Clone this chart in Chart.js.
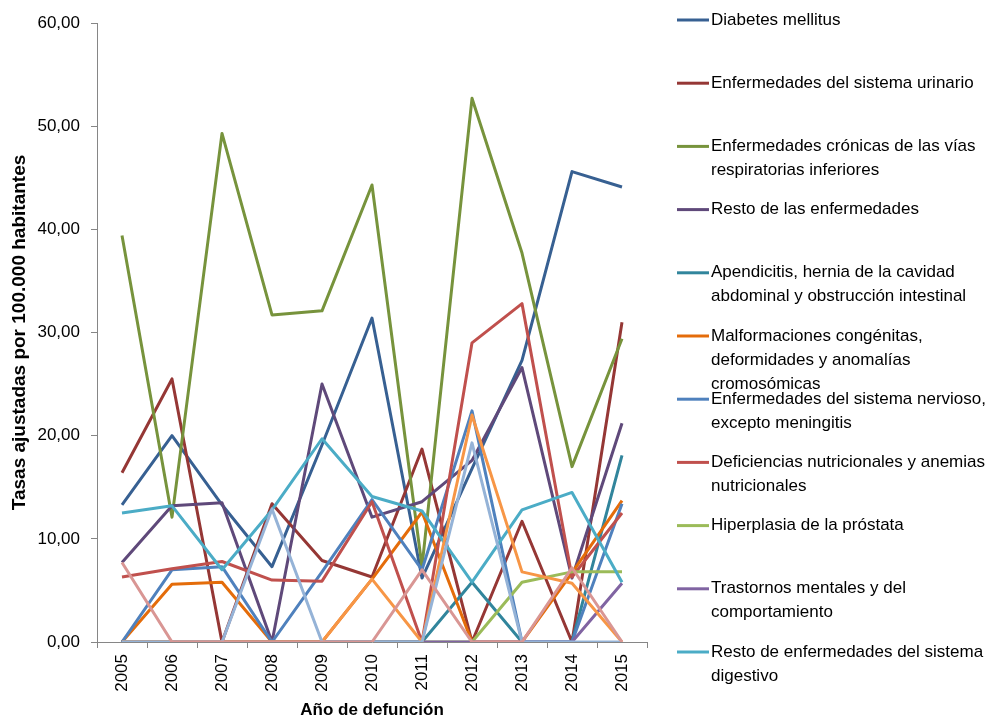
<!DOCTYPE html>
<html>
<head>
<meta charset="utf-8">
<script src="https://cdn.jsdelivr.net/npm/chart.js@4/dist/chart.umd.min.js"></script>
<style>
  body { margin: 0; background: #fff; }
  #wrap { width: 993px; height: 720px; position: relative; }
</style>
</head>
<body>
<div id="wrap"><canvas id="chart"></canvas></div>
<script>
// Años
const years = ['2005', '2006', '2007', '2008', '2009', '2010', '2011', '2012', '2013', '2014', '2015'];

// Tasas ajustadas por 100.000 habitantes
const diabetes       = [13.3, 20.0, 13.3, 7.3, 19.1, 31.4, 6.2, 16.8, 27.3, 45.6, 44.1];
const urinario       = [16.4, 25.5, 0, 13.4, 7.9, 6.3, 18.7, 0, 11.7, 0, 31.0];
const respiratorias  = [39.4, 12.1, 49.3, 31.7, 32.1, 44.3, 7.3, 52.7, 37.7, 17.0, 29.4];
const restoEnf       = [7.7, 13.2, 13.5, 0, 25.0, 12.1, 13.6, 17.6, 26.6, 6.2, 21.2];
const apendicitis    = [0, 0, 0, 0, 0, 0, 0, 5.8, 0, 0, 18.1];
const malformaciones = [0, 5.6, 5.8, 0, 0, 6.1, 12.6, 0, 0, 6.7, 13.7];
const nervioso       = [0, 7.0, 7.3, 0, 6.8, 13.8, 7.0, 22.4, 0, 0, 13.4];
const deficiencias   = [6.3, 7.1, 7.8, 6.0, 5.9, 13.6, 0, 29.0, 32.8, 6.3, 12.5];
const hiperplasia    = [0, 0, 0, 0, 0, 0, 0, 0, 5.8, 6.8, 6.8];
const trastornos     = [0, 0, 0, 0, 0, 0, 0, 0, 0, 0, 5.7];
const digestivo      = [12.5, 13.2, 7.0, 12.8, 19.7, 14.1, 12.7, 5.8, 12.8, 14.5, 5.8];
// series sin entrada visible en la leyenda (recortada)
const serie12        = [0, 0, 0, 0, 0, 6.1, 0, 22.0, 6.8, 5.7, 0];
const serie13        = [0, 0, 0, 12.9, 0, 0, 0, 19.3, 0, 0, 0];
const serie14        = [7.7, 0, 0, 0, 0, 0, 7.0, 0, 0, 7.2, 0];

const seriesNames = [
  'Diabetes mellitus',
  'Enfermedades del sistema urinario',
  'Enfermedades crónicas de las vías\nrespiratorias inferiores',
  'Resto de las enfermedades',
  'Apendicitis, hernia de la cavidad\nabdominal y obstrucción intestinal',
  'Malformaciones congénitas,\ndeformidades y anomalías\ncromosómicas',
  'Enfermedades del sistema nervioso,\nexcepto meningitis',
  'Deficiencias nutricionales y anemias\nnutricionales',
  'Hiperplasia de la próstata',
  'Trastornos mentales y del\ncomportamiento',
  'Resto de enfermedades del sistema\ndigestivo',
  'Serie 12',
  'Serie 13',
  'Serie 14'
];
const seriesValues = [diabetes, urinario, respiratorias, restoEnf, apendicitis, malformaciones,
  nervioso, deficiencias, hiperplasia, trastornos, digestivo, serie12, serie13, serie14];
const seriesColors = ['#376092', '#953735', '#77933C', '#5F497A', '#31859C', '#E46C0A',
  '#4F81BD', '#C0504D', '#9BBB59', '#8064A2', '#4BACC6', '#F79646', '#95B3D7', '#D99694'];

const FONT = '"Liberation Sans", Arial, sans-serif';
const SIZE = 17;
const legendShown = 11;

// leyenda a la derecha, dibujada a mano para respetar los saltos de línea
const sideLegend = {
  id: 'sideLegend',
  afterDraw(chart) {
    const ctx = chart.ctx;
    ctx.save();
    ctx.font = SIZE + 'px ' + FONT;
    ctx.textBaseline = 'middle';
    ctx.textAlign = 'left';
    for (let i = 0; i < legendShown; i++) {
      const y = 20 + i * 63.2;
      ctx.strokeStyle = seriesColors[i];
      ctx.lineWidth = 3;
      ctx.beginPath();
      ctx.moveTo(677, y);
      ctx.lineTo(709, y);
      ctx.stroke();
      ctx.fillStyle = '#000';
      seriesNames[i].split('\n').forEach((line, k) => {
        ctx.fillText(line, 711, y + k * 24);
      });
    }
    ctx.restore();
  }
};

const datasets = seriesValues.map((vals, i) => ({
  label: seriesNames[i].replace(/\n/g, ' '),
  data: vals,
  borderColor: seriesColors[i],
  backgroundColor: seriesColors[i],
  borderWidth: 3,
  pointRadius: 0,
  tension: 0,
  borderJoinStyle: 'round',
  fill: false,
  order: -i
}));

new Chart(document.getElementById('chart'), {
  type: 'line',
  data: { labels: years, datasets: datasets },
  options: {
    responsive: true,
    maintainAspectRatio: false,
    animation: false,
    layout: { padding: { left: 0, top: 23, right: 346, bottom: 0 } },
    plugins: {
      legend: { display: false },
      tooltip: { enabled: false }
    },
    scales: {
      x: {
        offset: true,
        afterFit: function(scale) { scale.height = 78; },
        grid: { display: true, drawOnChartArea: false, offset: true, tickLength: 6, color: '#868686' },
        border: { display: true, color: '#868686' },
        ticks: { minRotation: 90, maxRotation: 90, padding: 6, color: '#000', font: { family: FONT, size: SIZE } },
        title: {
          display: true,
          text: 'Año de defunción',
          color: '#000',
          padding: { top: 0, bottom: 0 },
          font: { family: FONT, size: SIZE, weight: 'bold', lineHeight: 1.1 }
        }
      },
      y: {
        min: 0,
        max: 60,
        afterFit: function(scale) { scale.width = 97; },
        grid: { display: true, drawOnChartArea: false, tickLength: 6, color: '#868686' },
        border: { display: true, color: '#868686' },
        ticks: {
          stepSize: 10,
          padding: 11,
          color: '#000',
          font: { family: FONT, size: SIZE },
          callback: function(v) { return v.toFixed(2).replace('.', ','); }
        },
        title: {
          display: true,
          text: 'Tasas ajustadas por 100.000 habitantes',
          color: '#000',
          padding: { top: 9, bottom: 0 },
          font: { family: FONT, size: 19, weight: 'bold', lineHeight: 1.1 }
        }
      }
    }
  },
  plugins: [sideLegend]
});
</script>
</body>
</html>
